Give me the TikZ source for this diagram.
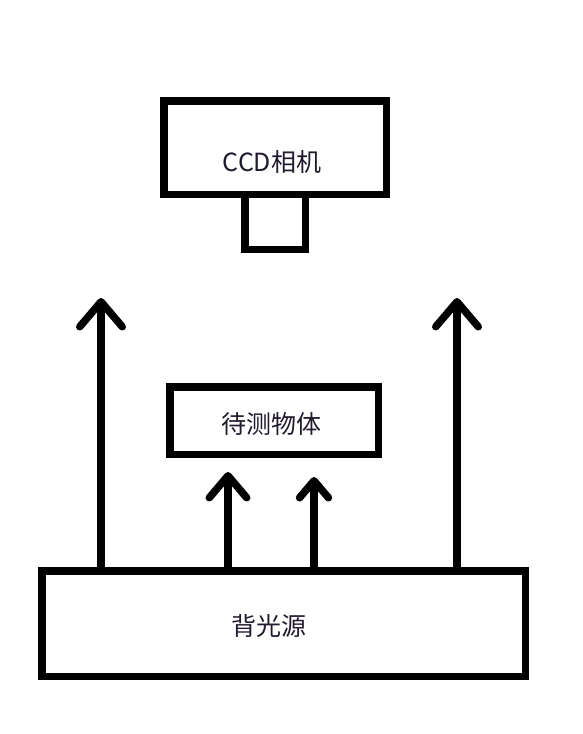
\documentclass[tikz,border=0pt]{standalone}
\usepackage{fontspec}
\newfontfamily\cjk{Noto Sans CJK SC}
\usetikzlibrary{arrows.meta}
\usetikzlibrary{positioning}
\definecolor{inkdark}{RGB}{34,26,46}
\tikzset{
    box/.style={
        draw,
        rectangle,
        line width=7.5pt,
        outer sep=0pt,
        inner sep=0pt
    },
    boxlabel/.style={
        font=\cjk\fontsize{25}{25}\selectfont,
        text=inkdark
    },
    ray/.style={
        line width=7.5pt,
        -{Straight Barb[length=#1, width=1.7*#1, round]}
    },
    ray/.default=25pt
}

\begin{document}
\begin{tikzpicture}[x=1pt, y=-1pt]
  \useasboundingbox (0,0) rectangle (582,734);

  % CCD camera with its lens
  \node[box, minimum width=222.5pt, minimum height=93.5pt] (cam) at (275,147.5) {};
  \node[box, minimum width=60.5pt, minimum height=55pt, anchor=north] (lens) at (cam.south) {};
  \node[boxlabel] (camtext) at (272,162) {CCD相机};

  % Object under test
  \node[box, minimum width=208.5pt, minimum height=67.5pt] (obj) at (274,420.5) {};
  \node[boxlabel] (objtext) at (271,424) {待测物体};

  % Backlight
  \node[box, minimum width=483.5pt, minimum height=105.5pt] (light) at (283.5,623.5) {};
  \node[boxlabel] (lighttext) at (269,626) {背光源};

  % Free ends of the light rays
  \coordinate (tipL) at (101,298);
  \coordinate (tipR) at (457,298);
  \coordinate (tipA) at (228,472);
  \coordinate (tipB) at (314,477);

  % Light rays
  \draw[ray] (light.north -| tipL) -- (tipL);
  \draw[ray] (light.north -| tipR) -- (tipR);
  \draw[ray=22pt] (light.north -| tipA) -- (tipA);
  \draw[ray=17pt] (light.north -| tipB) -- (tipB);
\end{tikzpicture}
\end{document}
